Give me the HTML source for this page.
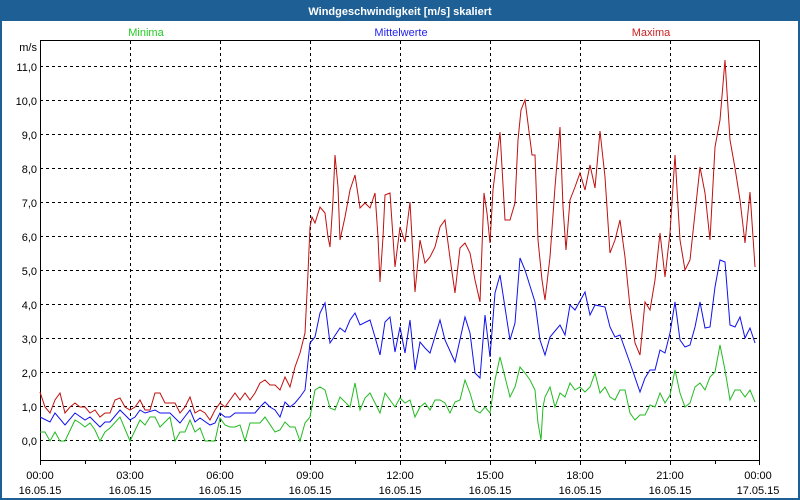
<!DOCTYPE html>
<html><head><meta charset="utf-8"><style>
html,body{margin:0;padding:0;width:800px;height:500px;overflow:hidden;background:#fff}
svg{display:block}
text{font-family:"Liberation Sans","DejaVu Sans",sans-serif;font-size:11px}
</style></head><body>
<svg width="800" height="500" viewBox="0 0 800 500" xmlns="http://www.w3.org/2000/svg">
<rect x="0" y="0" width="800" height="500" fill="#1e6096"/>
<rect x="2" y="21" width="796" height="477" fill="#fff"/>
<text x="400" y="15" fill="#fff" font-weight="bold" text-anchor="middle">Windgeschwindigkeit [m/s] skaliert</text>
<text x="146" y="36" fill="#22cc22" text-anchor="middle">Minima</text>
<text x="401" y="36" fill="#2222ee" text-anchor="middle">Mittelwerte</text>
<text x="651" y="36" fill="#cc2020" text-anchor="middle">Maxima</text>
<g stroke="#000" stroke-width="1" stroke-dasharray="3,3" fill="none" shape-rendering="crispEdges">
<path d="M40 66.5H760M40 100.5H760M40 134.5H760M40 168.5H760M40 202.5H760M40 236.5H760M40 270.5H760M40 304.5H760M40 338.5H760M40 372.5H760M40 406.5H760M40 440.5H760"/>
<path d="M130.5 41V461M220.5 41V461M310.5 41V461M400.5 41V461M490.5 41V461M580.5 41V461M670.5 41V461"/>
</g>
<g stroke="#000" stroke-width="1" fill="none" shape-rendering="crispEdges">
<rect x="40.5" y="40.5" width="719" height="420"/>
<path d="M40.5 461v4M85.5 461v3M130.5 461v4M175.5 461v3M220.5 461v4M265.5 461v3M310.5 461v4M355.5 461v3M400.5 461v4M445.5 461v3M490.5 461v4M535.5 461v3M580.5 461v4M625.5 461v3M670.5 461v4M715.5 461v3M759.5 461v4"/>
</g>
<g fill="#000" text-anchor="end">
<text x="37" y="51">m/s</text>
<text x="37" y="71">11,0</text><text x="37" y="105">10,0</text><text x="37" y="139">9,0</text><text x="37" y="173">8,0</text><text x="37" y="207">7,0</text><text x="37" y="241">6,0</text><text x="37" y="275">5,0</text><text x="37" y="309">4,0</text><text x="37" y="343">3,0</text><text x="37" y="377">2,0</text><text x="37" y="411">1,0</text><text x="37" y="445">0,0</text>
</g>
<g fill="#000" text-anchor="middle">
<text x="40" y="479">00:00</text><text x="40" y="494">16.05.15</text>
<text x="130" y="479">03:00</text><text x="130" y="494">16.05.15</text>
<text x="220" y="479">06:00</text><text x="220" y="494">16.05.15</text>
<text x="310" y="479">09:00</text><text x="310" y="494">16.05.15</text>
<text x="400" y="479">12:00</text><text x="400" y="494">16.05.15</text>
<text x="490" y="479">15:00</text><text x="490" y="494">16.05.15</text>
<text x="580" y="479">18:00</text><text x="580" y="494">16.05.15</text>
<text x="670" y="479">21:00</text><text x="670" y="494">16.05.15</text>
<text x="758" y="479">00:00</text><text x="758" y="494">17.05.15</text>
</g>
<g fill="none" stroke-width="1" stroke-linejoin="miter">
<polyline stroke="#22bb22" points="40,432 45,432 50,441 55,432 60,441 65,441 75,420 80,423 85,427 90,423 95,430 100,441 105,432 110,428 120,417 130,441 140,420 145,425 150,417 155,417 160,427 170,417 175,441 180,432 185,432 190,420 195,432 200,428 205,441 215,441 220,418 225,425 230,427 235,427 240,425 245,441 250,423 260,423 265,417 275,432 280,430 285,422 290,427 295,427 300,441 305,423 310,417 315,390 320,387 325,390 330,408 335,410 340,397 350,407 355,383 360,410 365,398 370,393 380,413 385,393 395,407 400,398 405,403 410,400 415,417 420,407 425,403 430,410 435,400 440,400 445,403 450,413 455,402 460,400 465,380 470,393 475,410 480,413 485,407 490,413 495,380 500,357 505,377 510,397 515,387 520,367 525,373 530,380 535,390 538,423 541,440 543,407 545,397 550,387 555,407 560,393 565,397 570,383 575,390 580,387 585,392 590,387 595,373 600,393 605,387 610,397 615,400 620,390 625,390 630,413 635,420 640,415 645,415 650,405 655,407 660,393 665,403 670,395 675,370 680,393 685,407 690,403 695,387 700,383 705,390 710,377 715,372 720,345 725,370 730,400 735,390 740,390 745,397 750,390 755,402"/>
<polyline stroke="#1010ee" points="40,417 50,422 55,413 65,425 75,413 85,420 90,417 100,427 105,422 110,422 120,410 130,420 135,417 140,410 145,413 155,410 160,413 170,413 180,423 190,410 195,422 200,418 210,425 215,423 220,413 225,417 230,417 235,413 255,413 260,407 265,402 270,407 275,410 280,417 285,402 290,407 295,403 300,397 305,390 310,343 315,337 320,313 325,303 330,343 340,328 345,332 350,320 355,313 360,325 370,320 375,337 380,355 385,322 390,317 395,352 400,327 405,353 410,320 415,370 420,342 425,348 430,353 440,320 445,340 455,362 465,317 470,333 475,373 480,378 485,315 490,357 495,293 500,275 510,340 515,323 520,258 525,270 535,302 540,340 545,355 550,337 560,325 565,335 570,305 575,310 585,292 590,315 595,305 605,307 610,327 615,337 620,335 630,363 640,392 645,378 650,370 655,370 660,350 665,353 670,333 675,302 680,340 685,347 690,345 695,327 700,302 705,328 710,327 715,287 720,260 725,262 730,325 735,327 740,317 745,338 750,328 755,343"/>
<polyline stroke="#c01010" points="40,392 45,407 50,413 55,400 60,393 65,413 70,407 75,403 80,407 85,407 90,413 95,410 100,417 105,413 110,413 115,400 120,398 125,407 130,410 135,407 140,400 145,410 150,410 155,393 160,393 165,403 170,403 175,403 180,413 185,407 190,397 195,413 200,410 205,413 210,420 215,410 220,403 225,407 230,400 235,393 240,400 245,393 250,400 255,393 260,383 265,380 270,385 275,385 280,390 285,377 290,387 295,367 300,353 305,333 308,273 310,227 312,217 315,223 320,207 325,213 328,237 330,247 333,200 335,155 338,187 340,240 345,217 350,190 355,175 360,208 365,203 370,208 375,193 378,237 380,282 383,237 385,195 390,193 395,267 400,227 405,242 410,202 415,292 420,240 425,263 430,257 435,247 440,227 445,220 450,258 455,293 460,248 465,243 470,253 475,280 480,302 484,193 487,213 490,243 493,190 500,132 505,220 510,220 515,203 518,140 521,110 525,100 532,155 535,155 538,240 542,280 545,300 550,257 555,187 560,127 563,207 566,250 570,200 575,187 580,173 585,190 590,165 595,188 600,131 605,177 610,253 615,240 620,220 625,257 630,307 635,343 640,355 645,302 650,310 655,280 660,233 665,277 670,233 675,155 680,240 685,270 690,260 695,213 700,167 705,193 710,240 715,147 720,120 725,60 730,140 735,168 740,200 745,243 750,192 755,267"/>
</g>
</svg>
</body></html>
